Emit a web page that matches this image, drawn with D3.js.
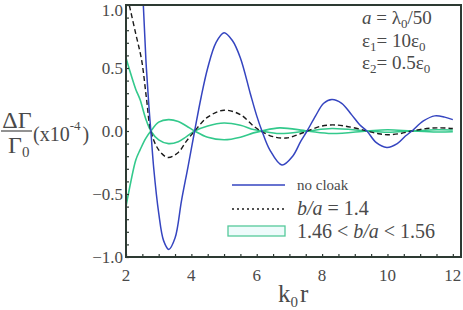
<!DOCTYPE html>
<html>
<head>
<meta charset="utf-8">
<script src="https://cdn.jsdelivr.net/npm/d3@7"></script>
<style>
body { margin: 0; background: #fff; }
</style>
</head>
<body>
<svg id="chart" width="463" height="310"></svg>
<script>
// values (k0 r, dGamma/Gamma0 x1e-4)
var noCloakK = [2.0, 2.2, 2.4, 2.53, 2.61, 2.7, 2.76, 2.85, 3.0, 3.15, 3.31, 3.5, 3.7, 3.9, 4.1, 4.3, 4.5, 4.75, 5.0, 5.25, 5.5, 5.8, 6.0, 6.16, 6.4, 6.77, 7.1, 7.35, 7.54, 7.8, 8.05, 8.3, 8.6, 8.9, 9.15, 9.37, 9.65, 9.98, 10.3, 10.55, 10.75, 11.1, 11.45, 11.75, 12.0];
var noCloakV = [4.5, 2.6, 1.55, 1.0, 0.56, 0.2, 0.0, -0.3, -0.65, -0.87, -0.94, -0.85, -0.55, -0.28, 0.0, 0.27, 0.5, 0.7, 0.78, 0.72, 0.58, 0.3, 0.12, 0.0, -0.15, -0.27, -0.2, -0.08, 0.0, 0.12, 0.22, 0.25, 0.22, 0.13, 0.05, 0.0, -0.09, -0.13, -0.1, -0.04, 0.0, 0.08, 0.12, 0.11, 0.09];

var ratio14K = [2.0, 2.1, 2.3, 2.48, 2.63, 2.76, 3.0, 3.28, 3.6, 3.85, 4.1, 4.5, 5.0, 5.5, 5.9, 6.12, 6.5, 6.9, 7.25, 7.55, 8.0, 8.4, 8.9, 9.37, 9.7, 10.0, 10.4, 10.75, 11.2, 11.6, 12.0];
var ratio14V = [1.12, 1.0, 0.77, 0.56, 0.25, 0.0, -0.15, -0.21, -0.17, -0.08, 0.0, 0.11, 0.165, 0.13, 0.04, 0.0, -0.045, -0.056, -0.03, 0.0, 0.04, 0.048, 0.03, 0.0, -0.02, -0.03, -0.02, 0.0, 0.02, 0.025, 0.02];

var bandK = [2.0, 2.15, 2.3, 2.43, 2.6, 2.76, 3.0, 3.3, 3.6, 3.85, 4.1, 4.5, 5.0, 5.5, 5.9, 6.15, 6.7, 7.55, 8.3, 9.37, 10.0, 10.75, 11.5, 12.0];
var bandLowV = [-0.6, -0.4, -0.23, -0.15, -0.06, 0.0, 0.07, 0.09, 0.075, 0.04, 0.0, -0.05, -0.07, -0.05, -0.015, 0.0, 0.025, 0.0, -0.02, 0.0, 0.01, 0.0, -0.008, -0.006];
var bandHighV = [0.58, 0.45, 0.33, 0.25, 0.1, 0.0, -0.07, -0.1, -0.085, -0.045, 0.0, 0.04, 0.063, 0.045, 0.012, 0.0, -0.02, 0.0, 0.02, 0.0, -0.01, 0.0, 0.01, 0.008];

var xTicks = [2, 4, 6, 8, 10, 12];
var yTicks = [-1.0, -0.5, 0.0, 0.5, 1.0];

var serif = '"Liberation Serif", "Times New Roman", Times, "DejaVu Serif", serif';
var textColor = '#4a4a4a';

var svg = d3.select('#chart')
    .attr('font-family', serif)
    .style('font-family', serif);
var axisColor = '#2d3a33';

var x = d3.scaleLinear().domain([2, 12.25]).range([126, 461]);
var y = d3.scaleLinear().domain([-1, 1]).range([257, 5]);

svg.append('defs').append('clipPath').attr('id', 'plotclip')
    .append('rect')
    .attr('x', x(2)).attr('y', y(1))
    .attr('width', x(12.25) - x(2)).attr('height', y(-1) - y(1));

function zipPts(ks, vs) {
    return ks.map(function (k, i) { return [k, vs[i]]; });
}

var line = d3.line()
    .x(function (d) { return x(d[0]); })
    .y(function (d) { return y(d[1]); })
    .curve(d3.curveCatmullRom.alpha(0.5));

var plot = svg.append('g').attr('clip-path', 'url(#plotclip)');

// green band edges
[bandLowV, bandHighV].forEach(function (vs) {
    plot.append('path')
        .attr('d', line(zipPts(bandK, vs)))
        .attr('fill', 'none')
        .attr('stroke', '#33c98c')
        .attr('stroke-width', 1.6);
});

plot.append('path')
    .attr('d', line(zipPts(ratio14K, ratio14V)))
    .attr('fill', 'none')
    .attr('stroke', '#1a1a1a')
    .attr('stroke-width', 1.4)
    .attr('stroke-dasharray', '5,3');

plot.append('path')
    .attr('d', line(zipPts(noCloakK, noCloakV)))
    .attr('fill', 'none')
    .attr('stroke', '#3545c0')
    .attr('stroke-width', 1.5);

// axes
var xAxis = d3.axisBottom(x).tickValues(d3.range(2, 12.01, 0.5)).tickSize(-3).tickFormat('');
var yAxis = d3.axisLeft(y).tickValues(d3.range(-1, 1.001, 0.1)).tickSize(-3).tickFormat('');

var gx = svg.append('g').attr('transform', 'translate(0,' + y(-1) + ')').call(xAxis);
var gy = svg.append('g').attr('transform', 'translate(' + x(2) + ',0)').call(yAxis);
[gx, gy].forEach(function (g) {
    g.select('.domain').remove();
    g.selectAll('line').attr('stroke', axisColor).attr('stroke-width', 1.2);
});

svg.append('rect')
    .attr('x', x(2)).attr('y', y(1))
    .attr('width', x(12.25) - x(2)).attr('height', y(-1) - y(1))
    .attr('fill', 'none')
    .attr('stroke', axisColor)
    .attr('stroke-width', 2);

function txt(px, py, size) {
    return svg.append('text')
        .attr('x', px).attr('y', py)
        .attr('font-size', size)
        .attr('fill', textColor)
        .style('font-family', serif);
}

xTicks.forEach(function (d) {
    txt(x(d), 281, 17).attr('text-anchor', 'middle').text(d);
});

yTicks.forEach(function (d) {
    // top label sits inside the window, as in the reference
    var py = d === 1 ? 16 : y(d) + 6;
    txt(123, py, 17).attr('text-anchor', 'end').text(d3.format('.1f')(d));
});

// x axis title
var xt = txt(278, 302, 25);
xt.append('tspan').text('k');
xt.append('tspan').attr('font-size', 15).attr('dy', 5).text('0');
xt.append('tspan').attr('dy', -5).attr('dx', 2).text('r');

// y axis title
txt(17, 128, 24).attr('text-anchor', 'middle').text('ΔΓ');
svg.append('line').attr('x1', 1).attr('x2', 32).attr('y1', 131).attr('y2', 131)
    .attr('stroke', textColor).attr('stroke-width', 1.2);
var g0 = txt(8, 153, 24);
g0.append('tspan').text('Γ');
g0.append('tspan').attr('font-size', 15).attr('dy', 4).text('0');
var ux = txt(33, 141, 20);
ux.append('tspan').text('(x10');
ux.append('tspan').attr('font-size', 13).attr('dy', -11).text('-4');
ux.append('tspan').attr('dy', 11).attr('dx', 2).text(')');

// parameter notes
var p1 = txt(362, 24, 19);
p1.append('tspan').attr('font-style', 'italic').text('a');
p1.append('tspan').text(' = λ');
p1.append('tspan').attr('font-size', 13).attr('dy', 4).text('0');
p1.append('tspan').attr('dy', -4).text('/50');

var p2 = txt(362, 47, 19);
p2.append('tspan').text('ε');
p2.append('tspan').attr('font-size', 13).attr('dy', 4).text('1');
p2.append('tspan').attr('dy', -4).text('= 10ε');
p2.append('tspan').attr('font-size', 13).attr('dy', 4).text('0');

var p3 = txt(362, 69, 19);
p3.append('tspan').text('ε');
p3.append('tspan').attr('font-size', 13).attr('dy', 4).text('2');
p3.append('tspan').attr('dy', -4).text('= 0.5ε');
p3.append('tspan').attr('font-size', 13).attr('dy', 4).text('0');

// legend
svg.append('line').attr('x1', 232).attr('x2', 285).attr('y1', 185).attr('y2', 185)
    .attr('stroke', '#3545c0').attr('stroke-width', 1.5);
txt(297, 190, 15).text('no cloak');

svg.append('line').attr('x1', 232).attr('x2', 285).attr('y1', 209).attr('y2', 209)
    .attr('stroke', '#1a1a1a').attr('stroke-width', 1.3).attr('stroke-dasharray', '2,3');
var l2 = txt(297, 215, 20);
l2.append('tspan').attr('font-style', 'italic').text('b/a');
l2.append('tspan').text(' = 1.4');

svg.append('rect').attr('x', 228).attr('y', 226).attr('width', 57).attr('height', 10)
    .attr('fill', '#eefbfb').attr('stroke', '#55c99a').attr('stroke-width', 1.3);
var l3 = txt(297, 238, 20);
l3.append('tspan').text('1.46 < ');
l3.append('tspan').attr('font-style', 'italic').text('b/a');
l3.append('tspan').text(' < 1.56');
</script>
</body>
</html>
